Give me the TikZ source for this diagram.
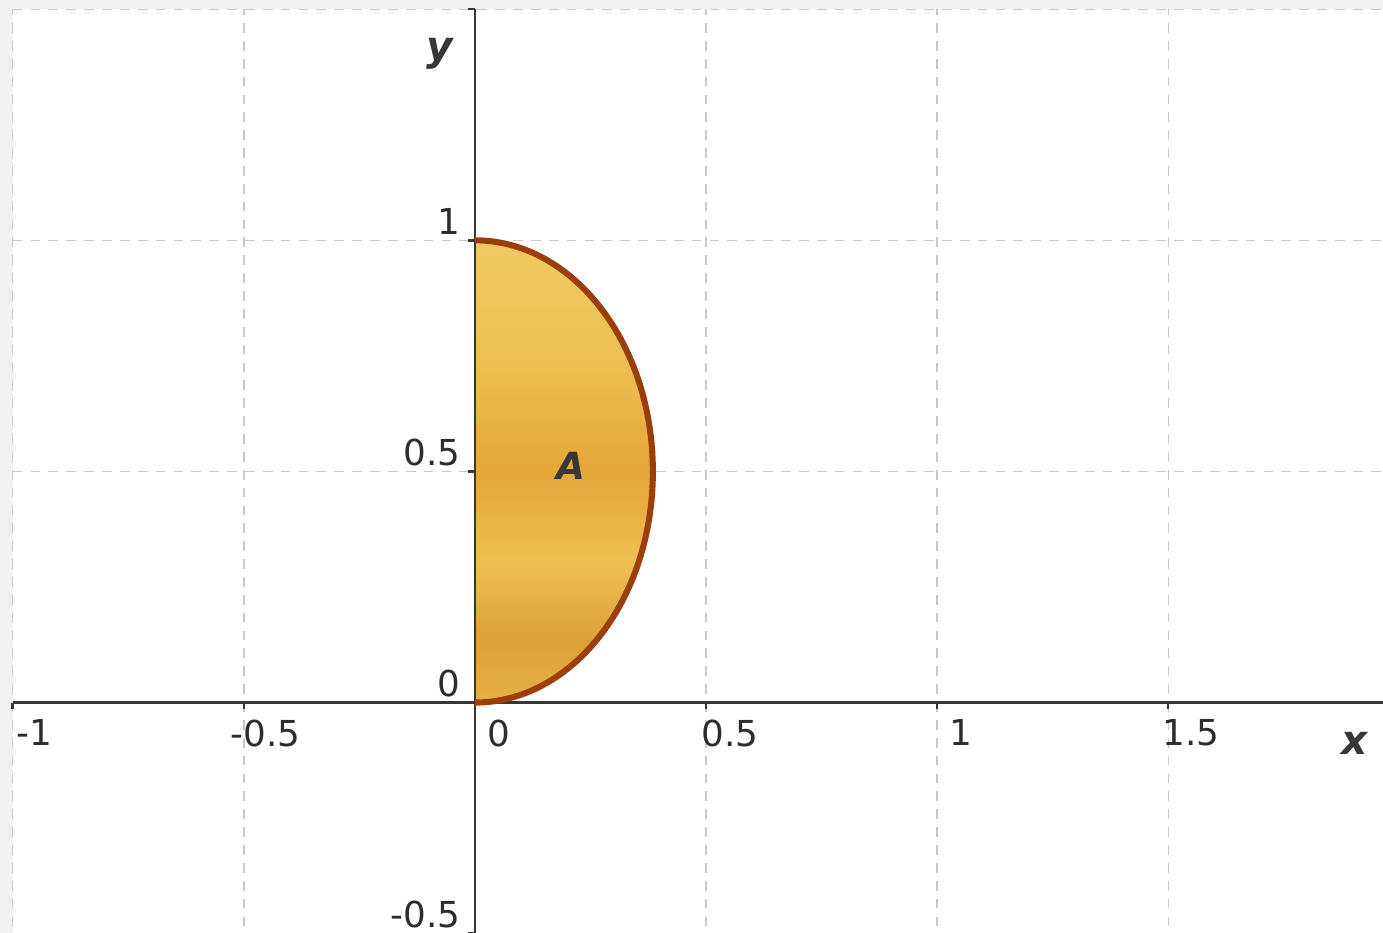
\documentclass[tikz,border=0pt]{standalone}
\usepackage{fontspec}
\setmainfont{DejaVu Sans}
\usetikzlibrary{arrows.meta,positioning}
\definecolor{gridgray}{RGB}{200,200,200}
\definecolor{axisgray}{RGB}{55,55,55}
\definecolor{ticktext}{RGB}{45,45,45}
\definecolor{edgebrown}{RGB}{155,62,8}
\definecolor{framegray}{RGB}{240,242,242}
\definecolor{goldtop}{RGB}{240,202,98}
\definecolor{goldlite}{RGB}{236,192,82}
\definecolor{goldmid}{RGB}{230,166,58}
\definecolor{golddark}{RGB}{222,160,56}
\definecolor{goldbot}{RGB}{232,176,72}
\pgfdeclareverticalshading{goldfill}{100bp}{color(0bp)=(goldbot); color(25bp)=(goldbot);
  color(32bp)=(golddark); color(40bp)=(goldlite); color(50bp)=(goldmid);
  color(62bp)=(goldlite); color(75bp)=(goldtop); color(100bp)=(goldtop)}

\begin{document}
\begin{tikzpicture}[
      x=4cm, y=4cm,
      gridline/.style={draw=gridgray, line width=0.35pt, dash pattern=on 2.4pt off 2pt},
      axisline/.style={draw=axisgray, line width=0.6pt},
      ticklabel/.style={font=\fontsize{8.8}{10}\selectfont, text=ticktext, inner sep=0pt},
      axislabel/.style={font=\fontsize{10}{12}\selectfont\bfseries\itshape, text=axisgray, inner sep=0pt},
      region/.style={shading=goldfill},
      curve/.style={draw=edgebrown, line width=1.5pt},
    ]
    \useasboundingbox (-1.0275,-0.498) rectangle (1.9647,1.520);
    \fill[framegray] (-1.0275,-0.498) rectangle (1.9647,1.520);
    \fill[white] (-1,-0.6) rectangle (1.9647,1.5);

    % grid
    \foreach \gx in {-1,-0.5,0.5,1,1.5}
      \draw[gridline] (\gx,-0.6) -- (\gx,1.5);
    \foreach \gy in {-0.5,0.5,1,1.5}
      \draw[gridline] (-1,\gy) -- (1.9647,\gy);

    % region A
    \coordinate (O) at (0,0);
    \coordinate (T) at (0,1);
    \path[region] (O) arc[start angle=-90, end angle=90, x radius=0.385, y radius=0.5] -- (T) -- cycle;

    % axes
    \draw[axisline] (-1,0) -- (1.9647,0);
    \draw[axisline] (0,-0.6) -- (0,1.5);
    \foreach \gx in {-1,-0.5,0.5,1,1.5}
      \draw[axisline] (\gx,0) -- (\gx,-0.015);
    \foreach \gy in {-0.5,0.5,1,1.5}
      \draw[axisline] (0,\gy) -- (-0.015,\gy);

    \draw[curve] (O) arc[start angle=-90, end angle=90, x radius=0.385, y radius=0.5];

    % labels
    \node[ticklabel, anchor=north west] (xm1) at (-0.993,-0.035) {-1};
    \node[ticklabel, anchor=north west] (xm05) at (-0.530,-0.035) {-0.5};
    \node[ticklabel, anchor=north west] (x0) at (0.026,-0.035) {0};
    \node[ticklabel, anchor=north west] (x05) at (0.489,-0.035) {0.5};
    \node[ticklabel, anchor=north west] (x1) at (1.024,-0.035) {1};
    \node[ticklabel, anchor=north west] (x15) at (1.486,-0.035) {1.5};

    \node[ticklabel, anchor=south east] (ym05) at (-0.03,-0.489) {-0.5};
    \node[ticklabel, anchor=south east] (y0) at (-0.03,0.011) {0};
    \node[ticklabel, anchor=south east] (y05) at (-0.03,0.511) {0.5};
    \node[ticklabel, anchor=south east] (y1) at (-0.03,1.011) {1};

    \node[axislabel] (xname) at (1.904,-0.088) {x};
    \node[axislabel] (yname) at (-0.076,1.404) {y};
    \node[axislabel, font=\fontsize{9.2}{11}\selectfont\bfseries\itshape] (aname) at (0.207,0.513) {A};
  \end{tikzpicture}
\end{document}
